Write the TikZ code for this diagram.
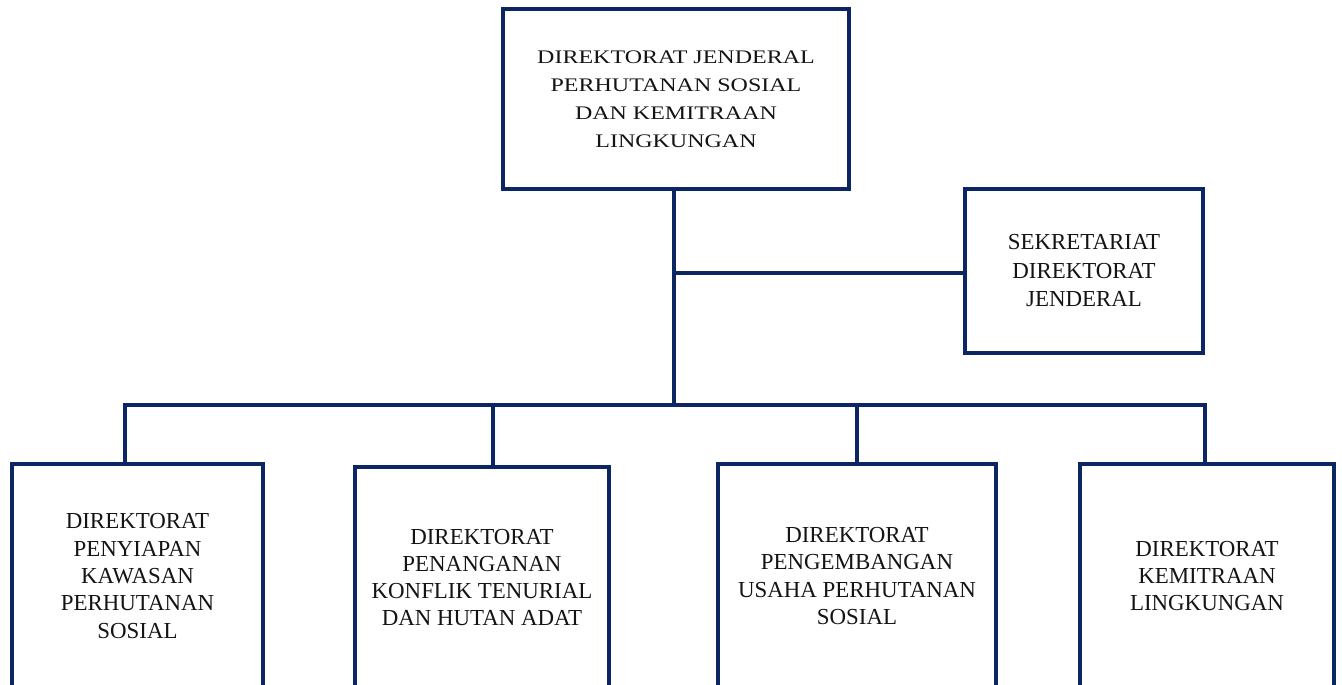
\documentclass[tikz,border=0pt]{standalone}
\usepackage{fontspec}
\setmainfont{Liberation Serif}
\newfontfamily\widefont[FakeStretch=1.25]{Liberation Serif}
\definecolor{navy}{RGB}{12,38,100}
\definecolor{ink}{RGB}{20,20,20}
\begin{document}
\begin{tikzpicture}[x=1pt,y=-1pt,
  box/.style={draw=navy,line width=4pt,line join=miter,align=center,text=ink,inner sep=0pt,
    font=\fontsize{22.9}{27.3}\selectfont},
  topbox/.style={box,font=\widefont\fontsize{19.2}{28}\selectfont},
  conn/.style={draw=navy,line width=4pt,line join=miter}]
\useasboundingbox (0,0) rectangle (1342,685);
\clip (0,0) rectangle (1342,685);
\node[topbox,minimum width=346pt,minimum height=180pt] (top) at (676,99)
  {DIREKTORAT JENDERAL\\PERHUTANAN SOSIAL\\DAN KEMITRAAN\\LINGKUNGAN};
\node[box,minimum width=238pt,minimum height=164pt,font=\fontsize{22.9}{28.5}\selectfont] (sek) at (1084,271)
  {SEKRETARIAT\\DIREKTORAT\\JENDERAL};
\node[box,minimum width=251pt,minimum height=224pt] (b1) at (137.5,576)
  {DIREKTORAT\\PENYIAPAN\\KAWASAN\\PERHUTANAN\\SOSIAL};
\node[box,minimum width=254pt,minimum height=221pt] (b2) at (482,577.5)
  {DIREKTORAT\\PENANGANAN\\KONFLIK TENURIAL\\DAN HUTAN ADAT};
\node[box,minimum width=278pt,minimum height=224pt] (b3) at (857,576)
  {DIREKTORAT\\PENGEMBANGAN\\USAHA PERHUTANAN\\SOSIAL};
\node[box,minimum width=254pt,minimum height=224pt] (b4) at (1207,576)
  {DIREKTORAT\\KEMITRAAN\\LINGKUNGAN};
\coordinate (trunk) at (674,405);
\coordinate (c1) at (125,405);
\coordinate (c2) at (493,405);
\coordinate (c3) at (857,405);
\coordinate (c4) at (1205,405);
\coordinate (sekrow) at (674,273);
\draw[conn] (trunk |- top.south) -- (trunk);
\draw[conn] (sekrow) -- (sekrow -| sek.west);
\draw[conn] (c1 |- b1.north) -- (c1) -- (c4) -- (c4 |- b4.north);
\draw[conn] (c2) -- (c2 |- b2.north);
\draw[conn] (c3) -- (c3 |- b3.north);
\end{tikzpicture}
\end{document}
